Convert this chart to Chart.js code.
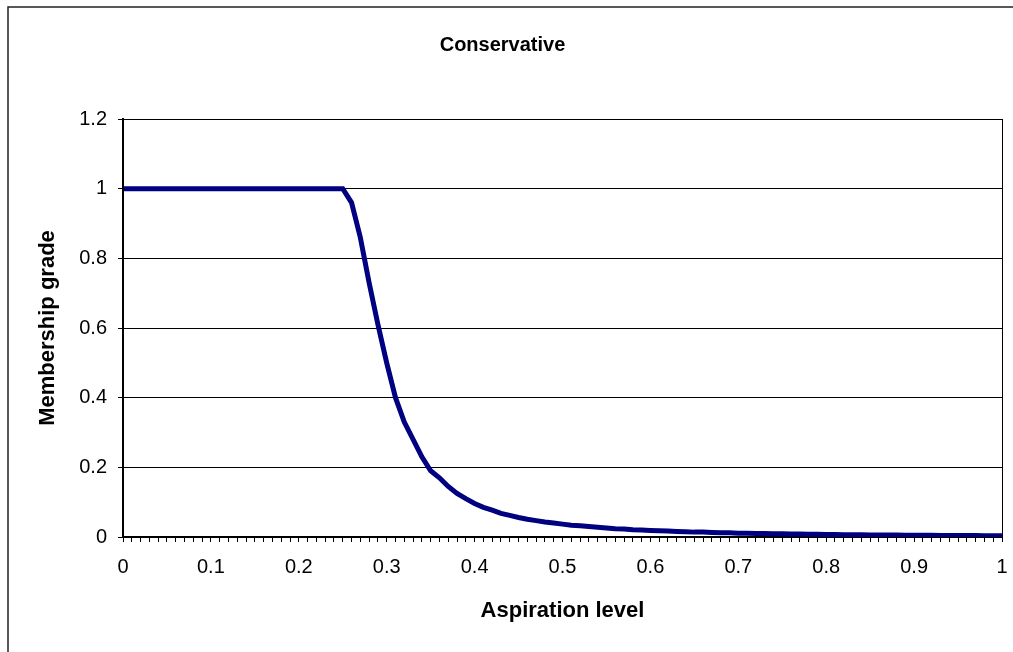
<!DOCTYPE html>
<html>
<head>
<meta charset="utf-8">
<title>Conservative</title>
<script src="https://cdn.jsdelivr.net/npm/chart.js@4.4.1/dist/chart.umd.min.js"></script>
<style>
  html, body { margin: 0; padding: 0; background: #fff; }
  #wrap { width: 1013px; height: 652px; position: relative; }
</style>
</head>
<body>
<div id="wrap"><canvas id="myChart"></canvas></div>
<script>
'use strict';

//Data
var chartTitle = 'Conservative';
var xTitle = 'Aspiration level';
var yTitle = 'Membership grade';
var xTickLabels = ['0', '0.1', '0.2', '0.3', '0.4', '0.5', '0.6', '0.7', '0.8', '0.9', '1'];
var yTickLabels = ['0', '0.2', '0.4', '0.6', '0.8', '1', '1.2'];

//membership grade for aspiration level 0.00, 0.01 ... 1.00
var membership = [
  1, 1, 1, 1, 1, 1, 1, 1, 1, 1,
  1, 1, 1, 1, 1, 1, 1, 1, 1, 1,
  1, 1, 1, 1, 1, 1, 0.96, 0.86, 0.73, 0.61,
  0.50, 0.40, 0.33, 0.28, 0.23, 0.19, 0.17, 0.145, 0.125, 0.11,
  0.096, 0.085, 0.077, 0.068, 0.062, 0.056, 0.051, 0.047, 0.043, 0.040,
  0.037, 0.034, 0.032, 0.030, 0.028, 0.026, 0.024, 0.023, 0.021, 0.020,
  0.019, 0.018, 0.017, 0.016, 0.015, 0.014, 0.014, 0.013, 0.012, 0.012,
  0.011, 0.011, 0.010, 0.010, 0.0095, 0.009, 0.0087, 0.0083, 0.008, 0.0077,
  0.0074, 0.0070, 0.0068, 0.0066, 0.0063, 0.0060, 0.0058, 0.0056, 0.0054, 0.0052,
  0.0050, 0.0049, 0.0047, 0.0046, 0.0044, 0.0043, 0.0042, 0.0040, 0.0039, 0.0038,
  0.0037
];

//categories 0.00 .. 1.00 (one per data point)
var categories = [];
for (let i = 0; i < membership.length; i++) {
  categories.push((i / 100).toFixed(2));
}

var fontFamily = '"Liberation Sans", Arial, sans-serif';

//borders: outer chart frame + plot area box
var framePlugin = {
  id: 'frame',
  afterDraw: function (chart) {
    let ctx = chart.ctx;
    let a = chart.chartArea;
    ctx.save();
    ctx.strokeStyle = '#000';
    ctx.lineWidth = 1;
    ctx.strokeRect(a.left + 0.5, a.top + 0.5, a.right - a.left, a.bottom - a.top);
    ctx.strokeStyle = '#222';
    ctx.lineWidth = 1.5;
    ctx.beginPath();
    ctx.moveTo(8, 700);
    ctx.lineTo(8, 7);
    ctx.lineTo(1100, 7);
    ctx.stroke();
    ctx.restore();
  }
};

var ctx = document.getElementById('myChart').getContext('2d');
// eslint-disable-next-line no-undef, no-unused-vars
var chart = new Chart(ctx, {
  type: 'line',
  data: {
    labels: categories,
    datasets: [{
      label: chartTitle,
      data: membership,
      borderColor: '#000080',
      backgroundColor: '#000080',
      borderWidth: 5,
      pointRadius: 0,
      tension: 0,
      fill: false
    }]
  },
  options: {
    responsive: true,
    maintainAspectRatio: false,
    animation: false,
    layout: { padding: { left: 3, right: 11, top: 0, bottom: 0 } },
    plugins: {
      legend: { display: false },
      tooltip: { enabled: false },
      title: {
        display: true,
        text: chartTitle,
        color: '#000',
        font: { family: fontFamily, size: 20, weight: 'bold' },
        padding: { top: 33, bottom: 62 }
      }
    },
    scales: {
      x: {
        type: 'category',
        offset: false,
        afterFit: function (scale) {
          scale.height = 115;
          //keep the plot box where the reference has it
          scale.paddingLeft = 0;
          scale.paddingRight = 0;
        },
        grid: { display: true, drawOnChartArea: false, drawTicks: true, tickLength: 5, color: '#000', lineWidth: 1 },
        border: { display: true, color: '#000', width: 2 },
        ticks: {
          autoSkip: false,
          maxRotation: 0,
          minRotation: 0,
          padding: 13,
          color: '#000',
          font: { family: fontFamily, size: 20 },
          callback: function (value, index) {
            return index % 10 === 0 ? xTickLabels[index / 10] : '';
          }
        },
        title: {
          display: true,
          text: xTitle,
          color: '#000',
          font: { family: fontFamily, size: 22, weight: 'bold' },
          padding: { top: 4, bottom: 28 }
        }
      },
      y: {
        min: 0,
        max: 1.2,
        afterFit: function (scale) { scale.width = 120; },
        grid: { display: true, drawTicks: true, tickLength: 5, color: '#000', lineWidth: 1 },
        border: { display: true, color: '#000', width: 2 },
        ticks: {
          stepSize: 0.2,
          padding: 11,
          color: '#000',
          font: { family: fontFamily, size: 20 },
          callback: function (value, index) {
            return yTickLabels[index];
          }
        },
        title: {
          display: true,
          text: yTitle,
          color: '#000',
          font: { family: fontFamily, size: 22, weight: 'bold' },
          padding: { top: 32, bottom: 4 }
        }
      }
    }
  },
  plugins: [framePlugin]
});
</script>
</body>
</html>
